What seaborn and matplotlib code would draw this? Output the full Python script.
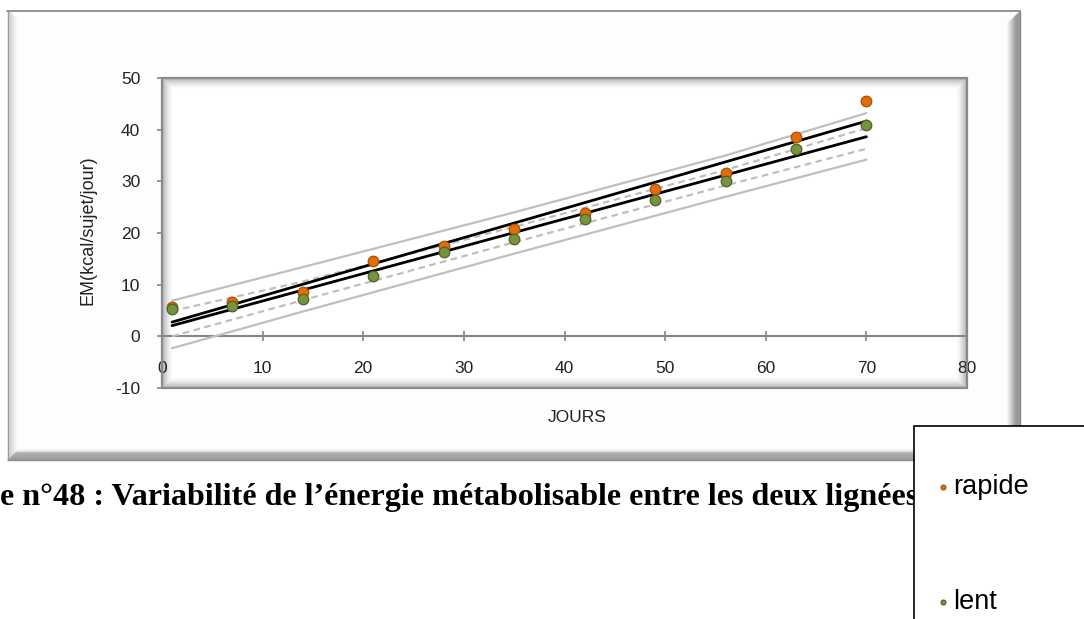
import numpy as np
import pandas as pd
import matplotlib
matplotlib.use("Agg")
import matplotlib.pyplot as plt
import seaborn as sns
from matplotlib.patches import Rectangle

# ---------------- data ----------------
days = [1, 7, 14, 21, 28, 35, 42, 49, 56, 63, 70]
em_rapide = [5.7, 6.7, 8.5, 14.5, 17.4, 20.7, 23.9, 28.5, 31.6, 38.6, 45.6]
em_lent = [5.2, 5.9, 7.2, 11.6, 16.3, 18.8, 22.8, 26.4, 30.1, 36.3, 40.9]
series_names = ["rapide", "lent"]

band_days = [1, 14, 35, 56, 70]
band_upper_outer = [6.9, 13.4, 24.0, 35.0, 43.2]
band_lower_outer = [-2.3, 4.8, 16.0, 27.0, 34.2]
band_upper_inner = [4.9, 10.6, 21.2, 32.2, 40.3]
band_lower_inner = [0.0, 7.0, 18.2, 29.2, 36.3]

x_ticks = [0, 10, 20, 30, 40, 50, 60, 70, 80]
y_ticks = [-10, 0, 10, 20, 30, 40, 50]
x_label = "JOURS"
y_label = "EM(kcal/sujet/jour)"
caption = "e n°48 : Variabilité de l’énergie métabolisable entre les deux lignées"

colors = {"rapide": "#E46C0A", "lent": "#77933C"}
edges = {"rapide": "#A84F08", "lent": "#4F6228"}

# ---------------- figure ----------------
sns.set_theme(style="white")
plt.rcParams["font.family"] = ["Liberation Sans", "DejaVu Sans"]

W, H = 1084, 619
fig = plt.figure(figsize=(W / 100, H / 100), dpi=100)
fig.patch.set_facecolor("white")


def fx(px):
    return px / W


def fy(py):
    return 1 - py / H


# background axes in pixel coordinates (frame, caption, legend box)
bg = fig.add_axes([0, 0, 1, 1], zorder=0)
bg.set_xlim(0, W)
bg.set_ylim(H, 0)
bg.axis("off")

L, T, R, B = 7, 10, 1020, 460
bg.add_patch(Rectangle((L, T), R - L, B - T, fc="#fdfdfd", ec="none", zorder=1))


def lerp(c1, c2, t):
    c1 = np.array(matplotlib.colors.to_rgb(c1))
    c2 = np.array(matplotlib.colors.to_rgb(c2))
    return tuple(c1 + (c2 - c1) * t)


# left bevel
for i in range(10):
    col = "#8c8c8c" if i == 0 else lerp("#cfcfcf", "#fdfdfd", (i - 1) / 8)
    bg.plot([L + 0.5 + i, L + 0.5 + i], [T + i, B - i], color=col, lw=1.0, zorder=2,
            solid_capstyle="butt")
# right bevel
for i in range(15):
    if i == 0:
        col = "#858585"
    elif i < 6:
        col = "#9a9a9a"
    else:
        col = lerp("#a6a6a6", "#fdfdfd", (i - 6) / 8)
    bg.plot([R - 0.5 - i, R - 0.5 - i], [T + i, B - i], color=col, lw=1.0, zorder=2,
            solid_capstyle="butt")
# bottom bevel
for i in range(13):
    if i == 0:
        col = "#8a8a8a"
    elif i < 9:
        col = lerp("#9a9a9a", "#b2b2b2", (i - 1) / 7)
    else:
        col = lerp("#dedede", "#fdfdfd", (i - 9) / 3)
    bg.plot([L + i, R - i], [B - 0.5 - i, B - 0.5 - i], color=col, lw=1.0, zorder=3,
            solid_capstyle="butt")
# top edge
bg.plot([L, R], [T + 0.5, T + 0.5], color="#959595", lw=1.4, zorder=3)

# caption (bold serif), fitted to the visible width
cap = bg.text(918, 498, caption, ha="right", va="center", fontsize=20,
              fontweight="bold", family=["Liberation Serif", "DejaVu Serif"],
              color="black", zorder=4)
fig.canvas.draw()
w = cap.get_window_extent().width
cap.set_fontsize(20 * 920 / w)

# legend box (partly off canvas)
bg.add_patch(Rectangle((913.5, 425.5), 250, 300, fc="white", ec="black", lw=1.2,
                       zorder=10, clip_on=False))

# ---------------- main plot ----------------
px_l, px_t, px_r, px_b = 162, 78, 967, 388
ax = fig.add_axes([fx(px_l), fy(px_b), (px_r - px_l) / W, (px_b - px_t) / H], zorder=2)
ax.set_facecolor("white")

# inner shadow of plot area
hh, ww = px_b - px_t, px_r - px_l
yy, xx = np.mgrid[0:hh, 0:ww]
d = np.minimum.reduce([xx, ww - 1 - xx, yy, hh - 1 - yy]).astype(float)
alpha = 0.55 * np.clip(1 - d / 11, 0, 1) ** 1.6
img = np.zeros((hh, ww, 4))
img[..., :3] = 0.45
img[..., 3] = alpha
ax.imshow(img, extent=[0, 80, -10, 50], aspect="auto", zorder=0,
          interpolation="bilinear", origin="upper")

# prediction / confidence bands
sns.lineplot(x=band_days, y=band_upper_outer, color="#BFBFBF", lw=1.6, ax=ax, zorder=2)
sns.lineplot(x=band_days, y=band_lower_outer, color="#BFBFBF", lw=1.6, ax=ax, zorder=2)
sns.lineplot(x=band_days, y=band_upper_inner, color="#BFBFBF", lw=1.6, ax=ax, zorder=2,
             linestyle=(0, (3, 2)))
sns.lineplot(x=band_days, y=band_lower_inner, color="#BFBFBF", lw=1.6, ax=ax, zorder=2,
             linestyle=(0, (3, 2)))

# regression lines
sns.regplot(x=days, y=em_rapide, scatter=False, ci=None, truncate=True, ax=ax,
            line_kws=dict(color="black", lw=2.0, zorder=3))
sns.regplot(x=days, y=em_lent, scatter=False, ci=None, truncate=True, ax=ax,
            line_kws=dict(color="black", lw=2.0, zorder=3))

# points
for name, vals in zip(series_names, [em_rapide, em_lent]):
    sns.scatterplot(x=days, y=vals, color=colors[name], edgecolor=edges[name],
                    linewidth=0.9, s=58, ax=ax, zorder=4, label=name)

ax.set_xlim(0, 80)
ax.set_ylim(-10, 50)
ax.set_xticks(x_ticks)
ax.set_yticks(y_ticks)
ax.set_xticklabels([str(t) for t in x_ticks])
ax.set_yticklabels([str(t) for t in y_ticks])

for s in ["top", "right", "left"]:
    ax.spines[s].set_visible(False)
ax.spines["bottom"].set_position(("data", 0))
ax.spines["bottom"].set_color("#868686")
ax.spines["bottom"].set_linewidth(1.5)
ax.spines["bottom"].set_zorder(1)

ax.add_patch(Rectangle((0, 0), 1, 1, transform=ax.transAxes, fill=False,
                       ec="#8a8a8a", lw=1.6, zorder=5, clip_on=False))

ax.tick_params(axis="x", direction="inout", length=7, width=1.2, color="#868686",
               pad=14.5, labelsize=12.5, labelcolor="#222222", bottom=True)
ax.tick_params(axis="y", direction="out", length=3.6, width=1.2, color="#868686",
               pad=12, labelsize=12.5, labelcolor="#222222", left=True)

ax.set_xlabel(x_label, fontsize=12.5, color="#222222")
ax.xaxis.set_label_coords((577 - px_l) / (px_r - px_l), (px_b - 410) / (px_b - px_t))
ax.set_ylabel(y_label, fontsize=13, color="#222222")
ax.yaxis.set_label_coords((97 - px_l) / (px_r - px_l), (px_b - 230) / (px_b - px_t))

handles, labels = ax.get_legend_handles_labels()
if ax.get_legend() is not None:
    ax.get_legend().remove()
leg = fig.legend(handles, labels, loc="upper left",
                 bbox_to_anchor=(fx(938), fy(474)), frameon=False, fontsize=19.5,
                 markerscale=0.45, handlelength=0.35, handletextpad=0.22,
                 labelspacing=3.3, borderpad=0, borderaxespad=0)
leg.set_zorder(20)
for t in leg.get_texts():
    t.set_color("black")

fig.savefig("out.png", dpi=100)
